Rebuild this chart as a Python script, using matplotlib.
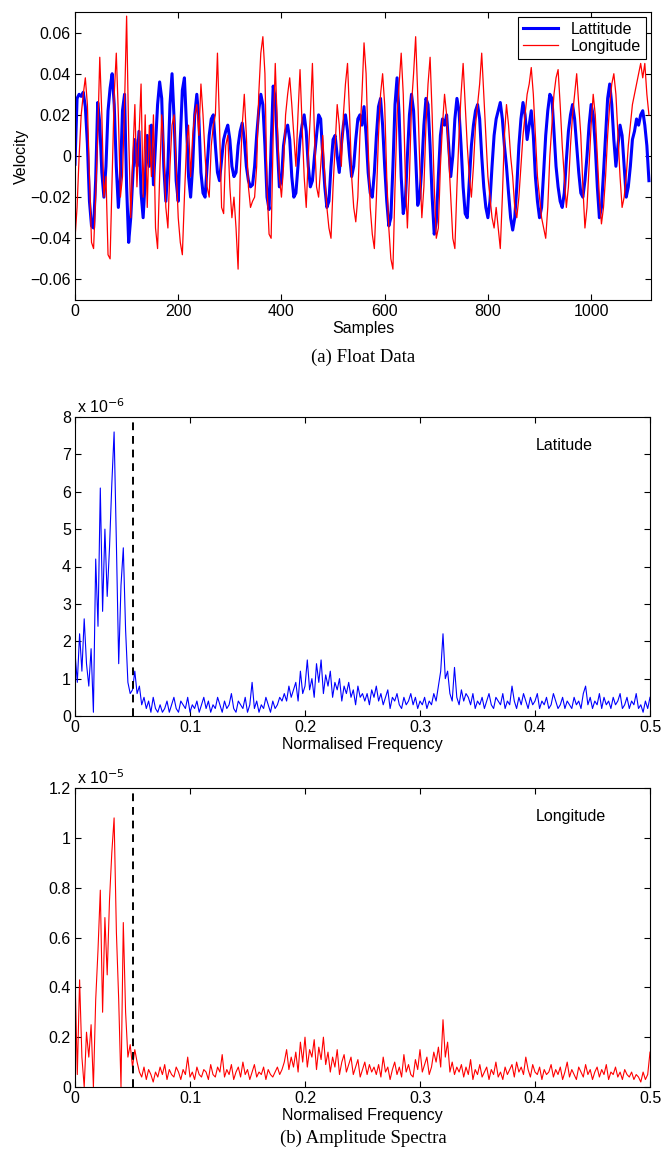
import numpy as np
import matplotlib
matplotlib.use("Agg")
import matplotlib.pyplot as plt

plt.rcParams["font.family"] = ["Liberation Sans", "DejaVu Sans"]
plt.rcParams["xtick.direction"] = "in"
plt.rcParams["ytick.direction"] = "in"

# float velocity, one value every 4 samples (units of 1e-3)
sample_step = 4
lat_vel = [
    -4, 28, 30, 29, 31, 24, 6, -22, -34, -35,
    -12, 26, 16, -8, -20, -5, 22, 33, 40, 25,
    -5, -25, -10, 22, 30, -15, -42, -30, -10, 8,
    -5, 12, -18, -30, -12, 10, -5, 15, -14, 5,
    25, 36, 28, -5, -22, -5, 25, 40, 18, -12,
    -22, 8, 32, 38, 15, -10, -20, -5, 20, 30,
    18, -8, -18, -20, -5, 10, 18, 20, 5, -8,
    -12, -2, 8, 12, 15, 8, -5, -10, -8, 5,
    12, 16, 8, -5, -12, -15, -14, -5, 10, 22,
    30, 25, 5, -20, -26, 5, 34, 28, 5, -15,
    -12, 5, 12, 15, 8, -10, -20, -18, -5, 8,
    15, 20, 12, -5, -15, -12, 0, 10, 20, 18,
    0, -15, -25, -22, -5, 8, 10, 0, -8, 5,
    15, 20, 12, 0, -10, -5, 8, 18, 20, 15,
    24, 10, -8, -18, -20, -8, 10, 24, 28, 15,
    -5, -22, -34, -30, -5, 25, 38, 20, -10, -28,
    -22, 0, 20, 30, 22, 0, -24, -20, -5, 15,
    28, 25, 5, -20, -38, -32, -10, 10, 18, 15,
    20, 5, -10, 0, 18, 28, 22, 5, -15, -28,
    -30, -12, 5, 15, 22, 25, 18, 0, -15, -25,
    -30, -22, -5, 10, 18, 22, 26, 18, 5, -5,
    -18, -30, -36, -30, -15, 5, 18, 26, 20, 8,
    15, 22, 10, -10, -22, -30, -25, -8, 10, 22,
    30, 28, 12, -5, -15, -22, -25, -18, -2, 12,
    20, 25, 18, 5, -8, -18, -20, -12, 0, 15,
    25, 20, 5, -15, -30, -25, -8, 10, 28, 35,
    25, 8, -5, 5, 15, 10, -5, -20, -15, -5,
    8, 12, 18, 15, 20, 22, 15, 5, -12,
]
lon_vel = [
    -40, -25, 0, 20, 30, 38, 25, -10, -42, -45,
    -20, 10, 48, 20, -20, -10, -48, -50, -10, 30,
    50, 20, -20, -10, 25, 68, 10, -30, 0, 25,
    -15, 10, 35, -20, 20, -25, 15, -10, 20, -35,
    -45, -10, 20, 5, -25, -35, -5, 15, 20, -5,
    -30, -42, -48, -20, 5, 15, -10, 10, 20, 25,
    10, 35, 20, 0, -15, -20, 5, 15, 20, 50,
    15, -25, -28, 5, 10, -15, -30, -20, -35, -55,
    -10, 15, 30, 10, -15, -25, -22, -20, -5, 30,
    50, 58, 40, -15, -38, -40, 10, 45, 15, -10,
    -20, -5, 20, 30, 38, 25, 10, -5, 20, 42,
    15, -10, -25, 0, 20, 45, 10, -15, -20, -5,
    10, -10, -25, -35, -40, -15, 5, 25, 15, -5,
    20, 35, 45, 20, -10, -25, -32, -20, 10, 30,
    55, 40, 5, -25, -38, -45, -20, 10, 30, 40,
    25, -10, -35, -50, -55, -15, 20, 35, 50, 30,
    -10, -35, -10, 25, 40, 58, 30, -5, -30, -15,
    15, 35, 48, 20, -15, -40, -35, -5, 15, 30,
    20, 0, -20, -40, -45, -15, 10, 30, 45, 25,
    5, -10, -20, -5, 15, 25, 35, 50, 30, 10,
    -10, -20, -30, -35, -25, -35, -45, -20, 10, 25,
    15, 0, -10, -25, -30, -20, -5, 10, 20, 30,
    35, 43, 30, 10, -10, -20, -30, -35, -40, -25,
    0, 15, 30, 38, 42, 25, 5, -10, -25, -15,
    5, 20, 30, 40, 25, 10, -15, -35, -25, -5,
    15, 30, 20, 0, -20, -33, -25, -10, 10, 25,
    35, 40, 30, 10, -10, -25, -20, -10, 5, 15,
    25, 30, 35, 40, 45, 38, 45, 30, 20,
]

# amplitude spectra, one value every 0.002 of normalised frequency
freq_step = 0.002
lat_spec = [  # units of 1e-6
    1.7, 0.9, 2.2, 1.2, 2.6, 1.4, 0.8, 1.8, 0.1, 4.2,
    2.4, 6.1, 2.8, 5.0, 3.2, 4.5, 6.2, 7.6, 4.6, 1.4,
    3.5, 4.5, 2.3, 0.9, 0.6, 0.7, 1.2, 0.6, 0.8, 0.3,
    0.5, 0.2, 0.4, 0.1, 0.5,
    0.2, 0.1, 0.3, 0.1, 0.2, 0.4, 0.1, 0.3, 0.5, 0.2,
    0.1, 0.4, 0.3, 0.2, 0.5, 0.1, 0.3, 0.2, 0.4, 0.1,
    0.3, 0.5, 0.2, 0.4, 0.1, 0.3, 0.2, 0.5, 0.3, 0.1,
    0.4, 0.2, 0.3, 0.6, 0.2, 0.1, 0.4, 0.3, 0.2, 0.5,
    0.1, 0.3, 0.9, 0.2, 0.4, 0.1, 0.3, 0.2, 0.5, 0.3,
    0.1, 0.4, 0.2, 0.3, 0.5, 0.4,
    0.6, 0.4, 0.8, 0.5, 0.7, 0.9, 0.4, 1.2, 0.6, 0.8,
    1.5, 0.7, 1.0, 0.5, 1.4, 0.9, 1.5, 0.6, 1.1, 0.8,
    1.2, 0.5, 0.9, 0.7, 1.0, 0.4, 0.8, 0.6, 0.9, 0.5,
    0.7, 0.3, 0.8, 0.5, 0.6,
    0.4, 0.6, 0.3, 0.7, 0.5, 0.8, 0.4, 0.6, 0.3, 0.5,
    0.7, 0.2, 0.5, 0.4, 0.6, 0.3, 0.2, 0.5, 0.3, 0.4,
    0.6, 0.3, 0.5, 0.2, 0.4, 0.3, 0.5, 0.2, 0.4, 0.3,
    0.6, 0.4, 0.8,
    1.2, 2.2, 1.0, 1.2, 0.6, 0.4, 1.3, 0.5, 0.3, 0.7, 0.4, 0.6,
    0.5, 0.3, 0.6, 0.2, 0.4, 0.3, 0.5, 0.2, 0.4, 0.6,
    0.3, 0.2, 0.5, 0.4, 0.3, 0.6, 0.2, 0.4, 0.3, 0.8,
    0.4, 0.2, 0.5, 0.3, 0.6, 0.4, 0.2, 0.5, 0.3, 0.4,
    0.6, 0.2, 0.4, 0.3, 0.5, 0.2, 0.3, 0.6, 0.4, 0.2,
    0.3, 0.5, 0.2, 0.4, 0.3, 0.2, 0.5, 0.3, 0.4, 0.2,
    0.6, 0.8, 0.3, 0.5, 0.2, 0.4, 0.3, 0.6, 0.2, 0.5,
    0.3, 0.4, 0.2, 0.5, 0.3, 0.4, 0.6, 0.2, 0.3, 0.5,
    0.2, 0.4, 0.3, 0.6, 0.2, 0.3, 0.1, 0.4, 0.2, 0.5,
]
lon_spec = [  # units of 1e-5
    0.45, 0.05, 0.43, 0.12, 0.0, 0.22, 0.12, 0.25, 0.0, 0.35,
    0.55, 0.79, 0.30, 0.68, 0.45, 0.75, 0.94, 1.08, 0.62, 0.35,
    0.0, 0.66, 0.30, 0.12, 0.17, 0.08, 0.15, 0.10,
    .06, .04, .08, .03, .07, .05, .02, .06, .04, .08,
    .05, .09, .03, .07, .05, .04, .08, .06, .03, .07,
    .05, .12, .04, .06, .03, .08, .05, .04, .07, .06,
    .03, .09, .05, .04, .08, .06, .13, .04, .07, .05,
    .09, .03, .06, .08, .04, .10, .05, .07, .03, .06,
    .09, .04, .06, .05, .08, .03, .07, .05, .04, .06,
    .08, .05, .07,
    .10, .15, .07, .12, .08, .14, .06, .18, .10, .20,
    .08, .15, .12, .19, .07, .16, .11, .20, .09, .14,
    .06, .12, .08, .15, .05, .10, .13, .06, .09, .12,
    .05, .08, .11, .04, .07, .10, .05, .09, .06, .08,
    .05, .09, .04, .12, .06, .08, .03, .07, .10, .05,
    .08, .04, .13, .06, .09, .05, .04, .11, .07, .15,
    .06, .09, .12, .05, .08, .14, .10,
    .16, .08, .27, .12, .18, .06, .10, .05, .08,
    .06, .09, .04, .08, .05, .11, .03, .07, .05, .09,
    .04, .06, .08, .03, .07, .05, .10, .04, .06, .03,
    .08, .05, .07, .09, .04, .10, .06, .08, .05, .12,
    .07, .04, .09, .06, .05, .08, .03, .07, .05, .06,
    .09, .04, .07, .05, .08, .03, .06, .10, .04, .07,
    .05, .03, .08, .06, .04, .09, .05, .07, .03, .06,
    .08, .04, .07, .05, .09, .03, .06, .05, .08, .04,
    .06, .03, .07, .05, .04, .06, .03, .05, .04, .02,
    .06, .03, .05, .14,
]
cutoff = 0.05

lat_v = np.array(lat_vel) * 1e-3
lon_v = np.array(lon_vel) * 1e-3
s_lat = np.arange(len(lat_v)) * sample_step
s_lon = np.arange(len(lon_v)) * sample_step
f_lat = np.arange(len(lat_spec)) * freq_step
f_lon = np.arange(len(lon_spec)) * freq_step

W, H = 666, 1160
FS = 11.5
fig = plt.figure(figsize=(W / 100, H / 100), dpi=100)


def px_axes(x0, y0, x1, y1):
    return fig.add_axes([x0 / W, 1 - y1 / H, (x1 - x0) / W, (y1 - y0) / H])


def style(ax):
    ax.tick_params(top=True, right=True, labelsize=FS, length=4,
                   width=0.8, pad=3)
    for s in ax.spines.values():
        s.set_linewidth(0.8)


# (a) float data
ax1 = px_axes(75, 12, 651, 300)
ax1.plot(s_lat, lat_v, color="#0000ff", lw=2.2, label="Lattitude")
ax1.plot(s_lon, lon_v, color="#ff0000", lw=0.9, label="Longitude")
ax1.set_xlim(0, 1116)
ax1.set_ylim(-0.07, 0.07)
ax1.set_xticks([0, 200, 400, 600, 800, 1000])
ax1.set_yticks([-0.06, -0.04, -0.02, 0, 0.02, 0.04, 0.06])
ax1.set_yticklabels(["\u22120.06", "\u22120.04", "\u22120.02", "0",
                     "0.02", "0.04", "0.06"])
ax1.set_xlabel("Samples", fontsize=FS, labelpad=1)
ax1.set_ylabel("Velocity", fontsize=FS, labelpad=1)
leg = ax1.legend(loc="upper right", fontsize=FS, fancybox=False,
                 edgecolor="black", framealpha=1, borderaxespad=0.3,
                 handlelength=2.2, borderpad=0.3, labelspacing=0.15)
leg.get_frame().set_linewidth(0.8)
style(ax1)
fig.text(363 / W, 1 - 357 / H, "(a) Float Data", ha="center", va="center",
         family=["Liberation Serif"], fontsize=13.5)

# (b) amplitude spectra
specs = [
    (417, 716, f_lat, lat_spec, "#0000ff", 8, range(0, 9), "Latitude", "6"),
    (788, 1087, f_lon, lon_spec, "#ff0000", 1.2,
     [0, 0.2, 0.4, 0.6, 0.8, 1, 1.2], "Longitude", "5"),
]
for top, bot, f, a, col, ymax, yt, name, ex in specs:
    ax = px_axes(75, top, 650, bot)
    ax.plot(f, a, color=col, lw=0.8)
    ax.axvline(cutoff, color="black", ls=(0, (4, 3)), lw=1.4)
    ax.set_xlim(0, 0.5)
    ax.set_ylim(0, ymax)
    ax.set_xticks([0, 0.1, 0.2, 0.3, 0.4, 0.5])
    ax.set_xticklabels(["0", "0.1", "0.2", "0.3", "0.4", "0.5"])
    ax.set_yticks(list(yt))
    ax.set_yticklabels([("%g" % v) for v in yt])
    ax.set_xlabel("Normalised Frequency", fontsize=FS, labelpad=1)
    ax.text(0.802, 0.905, name, transform=ax.transAxes, fontsize=FS,
            va="center")
    ax.text(0.003, 1.005, "x 10$^{-%s}$" % ex, transform=ax.transAxes,
            fontsize=FS, va="bottom")
    style(ax)

fig.text(363 / W, 1 - 1138 / H, "(b) Amplitude Spectra", ha="center",
         va="center", family=["Liberation Serif"], fontsize=13.5)

fig.savefig("out.png", dpi=100)
